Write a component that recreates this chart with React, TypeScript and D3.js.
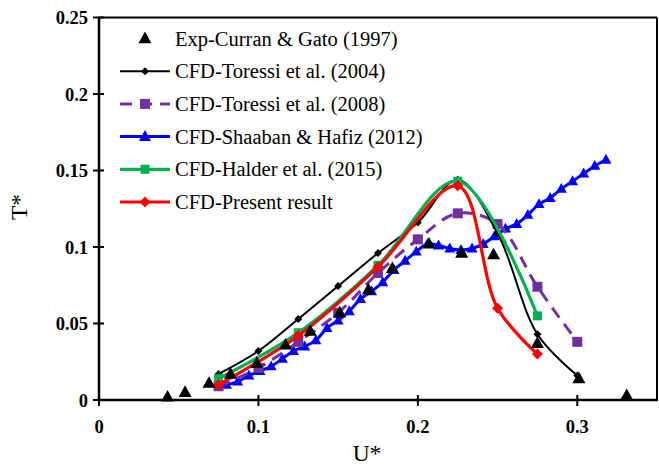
import React from "react";
import * as d3 from "d3";

const X_TICKS = [0, 0.1, 0.2, 0.3];
const Y_TICKS = [0, 0.05, 0.1, 0.15, 0.2, 0.25];

const EXP_U = [0.043, 0.054, 0.069, 0.0825, 0.099, 0.117, 0.1325, 0.151, 0.169, 0.184, 0.207, 0.2275, 0.2475, 0.275, 0.301, 0.331];
const EXP_T = [0.002, 0.005, 0.011, 0.017, 0.024, 0.036, 0.045, 0.057, 0.072, 0.086, 0.102, 0.096, 0.095, 0.037, 0.014, 0.003];

const T04_U = [0.075, 0.1, 0.125, 0.15, 0.175, 0.2, 0.225, 0.25, 0.275, 0.3];
const T04_T = [0.017, 0.032, 0.053, 0.0745, 0.096, 0.116, 0.144, 0.109, 0.043, 0.016];

const T08_U = [0.075, 0.1, 0.125, 0.15, 0.175, 0.2, 0.225, 0.25, 0.275, 0.3];
const T08_T = [0.009, 0.021, 0.038, 0.057, 0.083, 0.105, 0.122, 0.115, 0.074, 0.038];

const SH_U = [0.08, 0.087, 0.094, 0.101, 0.108, 0.115, 0.122, 0.129, 0.136, 0.143, 0.15, 0.157, 0.164, 0.171, 0.178, 0.185, 0.192, 0.199, 0.206, 0.213, 0.22, 0.227, 0.234, 0.241, 0.248, 0.255, 0.262, 0.269, 0.276, 0.283, 0.29, 0.297, 0.304, 0.311, 0.318];
const SH_T = [0.01, 0.012, 0.016, 0.019, 0.022, 0.027, 0.032, 0.035, 0.039, 0.047, 0.052, 0.058, 0.066, 0.071, 0.077, 0.085, 0.091, 0.097, 0.102, 0.101, 0.099, 0.098, 0.099, 0.102, 0.107, 0.112, 0.115, 0.121, 0.128, 0.132, 0.138, 0.143, 0.148, 0.153, 0.157];

const HA_U = [0.075, 0.125, 0.175, 0.225, 0.275];
const HA_T = [0.014, 0.044, 0.088, 0.143, 0.055];

const PR_U = [0.075, 0.125, 0.175, 0.225, 0.25, 0.275];
const PR_T = [0.01, 0.042, 0.087, 0.14, 0.06, 0.03];

const LEGEND = [
  "Exp-Curran & Gato (1997)",
  "CFD-Toressi et al. (2004)",
  "CFD-Toressi et al. (2008)",
  "CFD-Shaaban & Hafiz (2012)",
  "CFD-Halder et al. (2015)",
  "CFD-Present result",
];

const W = 659;
const H = 466;
const FONT = "'Liberation Serif', 'Times New Roman', serif";

const x = d3.scaleLinear().domain([0, 0.35]).range([99, 657]);
const y = d3.scaleLinear().domain([0, 0.25]).range([400, 17.5]);

type Pt = [number, number];
const zip = (u: number[], t: number[]): Pt[] => u.map((v, i) => [v, t[i]]);

const smooth = d3
  .line<Pt>()
  .x((d) => x(d[0]))
  .y((d) => y(d[1]))
  .curve(d3.curveCatmullRom.alpha(0.5));

function Marker({ kind, cx, cy, size, fill }: { kind: string; cx: number; cy: number; size: number; fill: string }) {
  if (kind === "tri") {
    const h = size * 0.9;
    const p = `${cx},${cy - h * 0.6} ${cx - size / 2},${cy + h * 0.4} ${cx + size / 2},${cy + h * 0.4}`;
    return <polygon points={p} fill={fill} />;
  }
  if (kind === "sq") {
    return <rect x={cx - size / 2} y={cy - size / 2} width={size} height={size} fill={fill} />;
  }
  const r = size / 2;
  const p = `${cx},${cy - r} ${cx + r},${cy} ${cx},${cy + r} ${cx - r},${cy}`;
  return <polygon points={p} fill={fill} />;
}

const SERIES = [
  { data: zip(SH_U, SH_T), color: "#0000ff", width: 3, dash: "", kind: "tri", size: 11 },
  { data: zip(T08_U, T08_T), color: "#7030a0", width: 3, dash: "12,8", kind: "sq", size: 10 },
  { data: zip(T04_U, T04_T), color: "#000000", width: 2, dash: "", kind: "dia", size: 8 },
  { data: zip(HA_U, HA_T), color: "#00b050", width: 3.2, dash: "", kind: "sq", size: 9 },
  { data: zip(PR_U, PR_T), color: "#ff0000", width: 3.2, dash: "", kind: "dia", size: 11 },
];

const LEG_STYLE = [
  { color: "#000000", width: 2, dash: "", kind: "dia", size: 8 },
  { color: "#7030a0", width: 3, dash: "12,8", kind: "sq", size: 10 },
  { color: "#0000ff", width: 3, dash: "", kind: "tri", size: 12 },
  { color: "#00b050", width: 3.2, dash: "", kind: "sq", size: 9 },
  { color: "#ff0000", width: 3.2, dash: "", kind: "dia", size: 11 },
];

export default function App() {
  const exp = zip(EXP_U, EXP_T);
  const legX0 = 120;
  const legX1 = 170;
  const legY0 = 38.5;
  const legDy = 32.7;
  return (
    <svg width={W} height={H} style={{ position: "absolute", left: 0, top: 0, background: "#fff" }} fontFamily={FONT}>
      <rect x={0} y={0} width={W} height={H} fill="#fff" />
      <line x1={x(0)} x2={657} y1={y(0.25)} y2={y(0.25)} stroke="#000" strokeWidth={2} />
      <line x1={657} x2={657} y1={y(0.25)} y2={y(0)} stroke="#000" strokeWidth={2} />
      <line x1={x(0)} x2={x(0)} y1={y(0.25)} y2={y(0)} stroke="#000" strokeWidth={2.5} />
      <line x1={x(0)} x2={658} y1={y(0)} y2={y(0)} stroke="#000" strokeWidth={2.5} />
      {X_TICKS.map((t) => (
        <g key={"xt" + t}>
          <line x1={x(t)} x2={x(t)} y1={y(0) - 5} y2={y(0) + 6} stroke="#000" strokeWidth={2} />
          <text x={x(t)} y={433} textAnchor="middle" fontSize={18.5} fontWeight="bold">
            {String(+t.toFixed(2))}
          </text>
        </g>
      ))}
      {Y_TICKS.map((t) => (
        <g key={"yt" + t}>
          <line x1={x(0) - 6} x2={x(0) + 5} y1={y(t)} y2={y(t)} stroke="#000" strokeWidth={2} />
          <text x={88} y={y(t) + 6.5} textAnchor="end" fontSize={18.5} fontWeight="bold">
            {String(+t.toFixed(2))}
          </text>
        </g>
      ))}
      <text x={367} y={461} textAnchor="middle" fontSize={23.5}>U*</text>
      <text transform={`translate(27,207) rotate(-90)`} textAnchor="middle" fontSize={23.5}>T*</text>
      {SERIES.map((s, i) => (
        <g key={"s" + i}>
          <path d={smooth(s.data) || ""} fill="none" stroke={s.color} strokeWidth={s.width} strokeDasharray={s.dash || undefined} />
          {s.data.map((d, j) => (
            <Marker key={j} kind={s.kind} cx={x(d[0])} cy={y(d[1])} size={s.size} fill={s.color} />
          ))}
        </g>
      ))}
      {exp.map((d, j) => (
        <Marker key={"e" + j} kind="tri" cx={x(d[0])} cy={y(d[1])} size={13} fill="#000" />
      ))}
      <Marker kind="tri" cx={(legX0 + legX1) / 2} cy={legY0} size={13} fill="#000" />
      {LEG_STYLE.map((s, i) => {
        const cy = legY0 + legDy * (i + 1);
        return (
          <g key={"l" + i}>
            <line x1={legX0} x2={legX1} y1={cy} y2={cy} stroke={s.color} strokeWidth={s.width} strokeDasharray={s.dash || undefined} />
            <Marker kind={s.kind} cx={(legX0 + legX1) / 2} cy={cy} size={s.size} fill={s.color} />
          </g>
        );
      })}
      {LEGEND.map((t, i) => (
        <text key={"lt" + i} x={175} y={legY0 + legDy * i + 7} fontSize={20.5}>
          {t}
        </text>
      ))}
    </svg>
  );
}
